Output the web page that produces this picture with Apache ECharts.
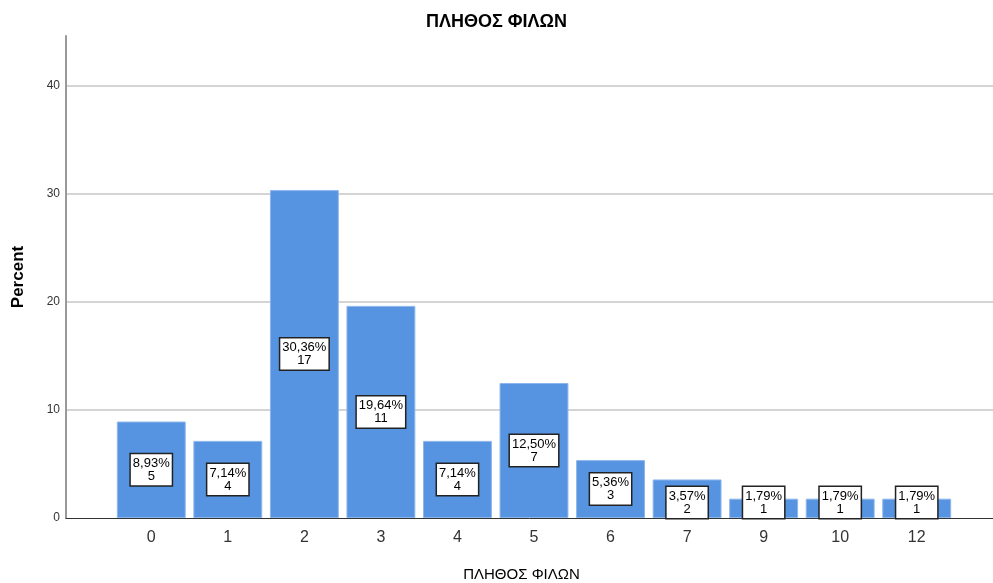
<!DOCTYPE html>
<html>
<head>
<meta charset="utf-8">
<script src="https://cdn.jsdelivr.net/npm/echarts@6/dist/echarts.min.js"></script>
<style>
  html, body { margin: 0; padding: 0; background: #fff; }
  #chart { width: 993px; height: 583px; }
</style>
</head>
<body>
<div id="chart"></div>
<script>
// Number of friends (categories), percentages and counts
const categories = ['0', '1', '2', '3', '4', '5', '6', '7', '9', '10', '12'];
const percents = [8.93, 7.14, 30.36, 19.64, 7.14, 12.50, 5.36, 3.57, 1.79, 1.79, 1.79];
const counts = [5, 4, 17, 11, 4, 7, 3, 2, 1, 1, 1];
const yTicks = [0, 10, 20, 30, 40];

const Y_MAX = 44.63;
const FONT = 'Liberation Sans, Arial, sans-serif';

const fmt = v => v.toFixed(2).replace('.', ',') + '%';

// Small bars keep their label box sitting on the baseline
const barData = percents.map((v, i) => ({
  value: v,
  label: v < 3.9 ? { position: 'insideBottom', distance: 0 } : { position: 'inside' },
  count: counts[i]
}));

const chart = echarts.init(document.getElementById('chart'), null, { renderer: 'canvas' });

chart.setOption({
  animation: false,
  backgroundColor: '#ffffff',
  title: {
    text: 'ΠΛΗΘΟΣ ΦΙΛΩΝ',
    left: 'center',
    top: 8,
    textStyle: { fontFamily: FONT, fontSize: 18, fontWeight: 'bold', color: '#000' }
  },
  grid: [
    { left: 66, right: 0, top: 36, bottom: 65, outerBoundsMode: 'none', containLabel: false },
    { left: 113, right: 38, top: 36, bottom: 65, outerBoundsMode: 'none', containLabel: false }
  ],
  xAxis: [
    {
      gridIndex: 0,
      type: 'value',
      min: 0, max: 1,
      axisLine: { show: true, onZero: false, lineStyle: { color: '#333', width: 1 } },
      axisTick: { show: false },
      axisLabel: { show: false },
      splitLine: { show: false },
      name: 'ΠΛΗΘΟΣ ΦΙΛΩΝ',
      nameLocation: 'middle',
      nameGap: 49,
      nameTextStyle: { fontFamily: FONT, fontSize: 15, color: '#000', padding: [0, 16, 0, 0] }
    },
    {
      gridIndex: 1,
      type: 'category',
      data: categories,
      axisLine: { show: false },
      axisTick: { show: false },
      axisLabel: { fontFamily: FONT, fontSize: 16, color: '#333', margin: 12 }
    }
  ],
  yAxis: [
    {
      gridIndex: 0,
      type: 'value',
      min: 0,
      max: Y_MAX,
      interval: 10,
      name: 'Percent',
      nameLocation: 'middle',
      nameGap: 39,
      nameTextStyle: { fontFamily: FONT, fontSize: 17, fontWeight: 'bold', color: '#000' },
      axisLine: { show: true, lineStyle: { color: '#999', width: 2 } },
      axisTick: { show: false },
      axisLabel: {
        fontFamily: FONT, fontSize: 12, color: '#333', margin: 6,
        showMaxLabel: false,
        formatter: v => (yTicks.includes(v) ? String(v) : '')
      },
      splitLine: { show: true, showMinLine: false, showMaxLine: false, lineStyle: { color: '#d4d4d4', width: 2 } }
    },
    {
      gridIndex: 1,
      type: 'value',
      min: 0,
      max: Y_MAX,
      show: false,
      splitLine: { show: false }
    }
  ],
  series: [
    {
      type: 'bar',
      xAxisIndex: 1,
      yAxisIndex: 1,
      data: barData,
      barCategoryGap: '10%',
      itemStyle: { color: '#5694e2', borderColor: '#8db6ec', borderWidth: 1 },
      label: {
        show: true,
        formatter: p => fmt(p.value) + '\n' + p.data.count,
        fontFamily: FONT,
        fontSize: 13,
        lineHeight: 13,
        color: '#000',
        backgroundColor: '#fff',
        borderColor: '#222',
        borderWidth: 1.5,
        padding: [3, 2, 2, 2],
        align: 'center'
      }
    }
  ]
});
</script>
</body>
</html>
